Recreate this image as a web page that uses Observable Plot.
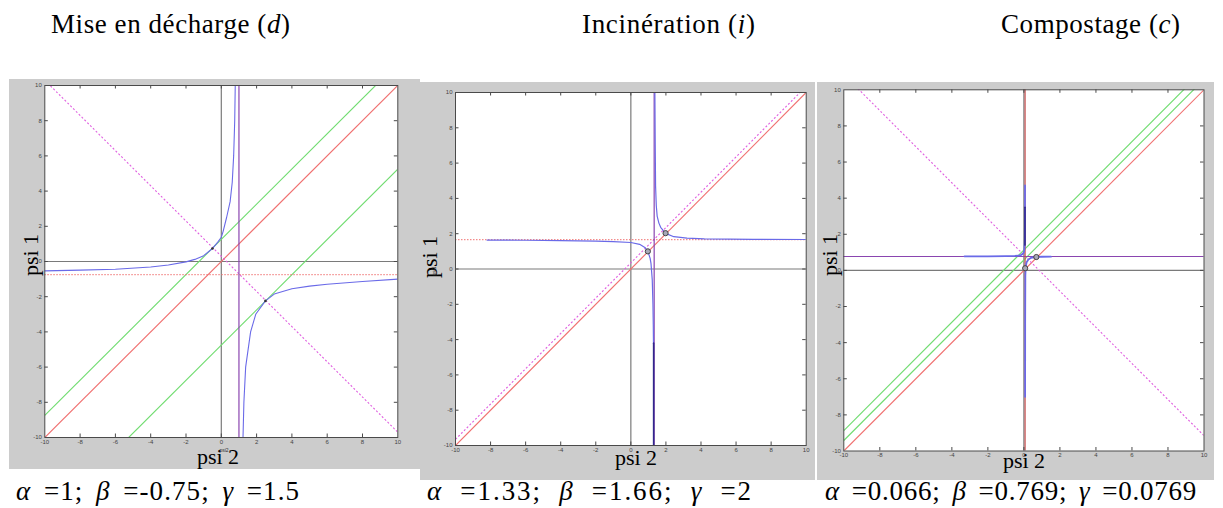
<!DOCTYPE html>
<html><head><meta charset="utf-8">
<script src="https://cdn.jsdelivr.net/npm/d3@7"></script>
<script src="https://cdn.jsdelivr.net/npm/@observablehq/plot@0.6"></script>
<style>
body{margin:0;background:#fff;}
#root{position:relative;width:1223px;height:508px;overflow:hidden;background:#fff;}
.panel{position:absolute;}
#overlay{position:absolute;left:0;top:0;pointer-events:none;}
</style></head><body><div id="root"></div>
<script>
// ---------------- data ----------------
const titles = ["Mise en décharge", "Incinération", "Compostage"];
const titleSymbols = ["d", "i", "c"];
const alphaLabels = ["1", "1.33", "0.066"];
const betaLabels = ["-0.75", "1.66", "0.769"];
const gammaLabels = ["1.5", "2", "0.0769"];
const alphas = [1, 1.33, 0.066];
const betas = [-0.75, 1.66, 0.769];
const tickValues = [-10, -8, -6, -4, -2, 0, 2, 4, 6, 8, 10];
const xLabel = "psi 2";
const yLabel = "psi 1";
// intercepts c of lines y = x + c
const redDiag = [[0], [0], [0]];
const greenDiag = [[1.26, -4.75], [], [1.13, 0.58]];
const pinkDiag = [[], [0.35], []];
// intercepts c of dotted lines y = -x + c
const pinkAnti = [[0.3], [], [0.85]];
// blue curve branches [psi2, psi1]
const blueLeft1 = [[-10,-0.53],[-8,-0.49],[-6,-0.44],[-4,-0.31],[-3,-0.2],[-2,-0.02],[-1.5,0.12],[-1,0.33],[-0.5,0.74],[-0.2,1.1],[0,1.38],[0.1,1.7],[0.3,2.5],[0.5,3.4],[0.62,4.5],[0.7,6],[0.76,8],[0.79,10]];
const blueRight1 = [[1.23,-10],[1.28,-8],[1.38,-6],[1.66,-4],[1.95,-3],[2.5,-2.24],[3,-1.85],[4,-1.55],[5,-1.4],[6,-1.29],[8,-1.14],[10,-1.0]];
const blueLeft2 = [[-8.2,1.64],[-6,1.63],[-4,1.61],[-2,1.58],[-1,1.55],[0,1.5],[0.5,1.4],[0.8,1.22],[0.97,1.0],[1.1,0.6],[1.15,0.3],[1.22,-0.6],[1.26,-2],[1.28,-3.2],[1.29,-4.2]];
const blueRight2 = [[1.37,10],[1.39,7],[1.41,4.7],[1.45,3.6],[1.5,3.0],[1.6,2.6],[1.7,2.36],[1.98,2.02],[2.45,1.83],[3.2,1.75],[4.2,1.71],[7,1.68],[10,1.67]];
const blueDark2 = [[1.3,-4.2],[1.3,-10]];
const blueLeft3 = [[-3.3,0.78],[-2,0.78],[-1,0.79],[-0.5,0.8],[-0.2,0.83],[-0.05,0.92],[0,1.02],[0.03,1.2],[0.05,1.7],[0.06,3.3],[0.062,4.7]];
const blueRight3 = [[0.068,-7],[0.07,-3],[0.08,-0.3],[0.1,0.2],[0.15,0.45],[0.25,0.6],[0.4,0.7],[0.7,0.745],[1,0.755],[1.5,0.76]];
const blueDark3 = [[0.06,1.4],[0.06,3.5]];
const dots1 = [[-0.5,0.74],[2.5,-2.24]];
const circles2 = [[0.97,1.0],[1.98,2.03]];
const circles3 = [[0.07,0.12],[0.69,0.74]];

const blueLeft = [blueLeft1, blueLeft2, blueLeft3];
const blueRight = [blueRight1, blueRight2, blueRight3];
const blueDark = [[], blueDark2, blueDark3];
const dots = [dots1, [], []];
const circles = [[], circles2, circles3];

// ---------------- styling / layout ----------------
const C = {
  bg: "#cccccc", axis: "#7a7a7a", frame: "#4a4a4a", red: "#f07070", green: "#70dc70",
  pink: "#e060e0", blue: "#6a6ae8", purple: "#8a45b0", redDark: "#c85050", navy: "#30288c"
};
const alphaStyle = [
  {stroke: C.purple}, {stroke: C.purple}, {stroke: C.redDark}
];
const betaStyle = [
  {stroke: C.red, strokeDasharray: "1.5,1.5"}, {stroke: C.red, strokeDasharray: "1.5,1.5"}, {stroke: C.purple}
];
const boxes = [
  {left: 9, top: 79, w: 411, h: 390, ml: 35.3, mr: 22.7, mt: 6, mb: 32},
  {left: 420, top: 82, w: 395, h: 398, ml: 35, mr: 9.3, mt: 10, mb: 35},
  {left: 817, top: 82, w: 397, h: 398, ml: 26.3, mr: 10.5, mt: 7.3, mb: 29.5}
];
const blueWidth = [1.1, 1.2, 1.8];

const root = document.getElementById("root");
const innerTicks = tickValues.slice(1, -1);
const X = d => d[0], Y = d => d[1];

function diag(data, style) {
  return Plot.link(data, {x1: () => -10, y1: c => -10 + c, x2: () => 10, y2: c => 10 + c, clip: true, strokeWidth: 1.15, ...style});
}
function anti(data, style) {
  return Plot.link(data, {x1: () => -10, y1: c => 10 + c, x2: () => 10, y2: c => -10 + c, clip: true, strokeWidth: 1.1, ...style});
}

for (let i = 0; i < 3; i++) {
  const b = boxes[i];
  const pw = b.w - b.ml - b.mr, ph = b.h - b.mt - b.mb;
  const chart = Plot.plot({
    width: b.w, height: b.h,
    marginLeft: b.ml, marginRight: b.mr, marginTop: b.mt, marginBottom: b.mb,
    x: {domain: [-10, 10]},
    y: {domain: [-10, 10]},
    style: {background: C.bg, fontFamily: "Liberation Sans, sans-serif", fontSize: "6px", overflow: "visible"},
    marks: [
      Plot.frame({fill: "white", stroke: null}),
      Plot.ruleX([0], {x: d => d, stroke: C.axis, strokeWidth: 1.2}),
      Plot.ruleY([0], {y: d => d, stroke: C.axis, strokeWidth: 1.2}),
      diag(greenDiag[i], {stroke: C.green}),
      diag(redDiag[i], {stroke: C.red}),
      diag(pinkDiag[i], {stroke: C.pink, strokeDasharray: "2,2"}),
      anti(pinkAnti[i], {stroke: C.pink, strokeDasharray: "2,2"}),
      Plot.ruleY([betas[i]], {y: d => d, ...betaStyle[i]}),
      Plot.ruleX([alphas[i]], {x: d => d, strokeWidth: 1.2, ...alphaStyle[i]}),
      Plot.line(blueLeft[i], {x: X, y: Y, stroke: C.blue, strokeWidth: blueWidth[i], clip: true}),
      Plot.line(blueRight[i], {x: X, y: Y, stroke: C.blue, strokeWidth: blueWidth[i], clip: true}),
      Plot.line(blueDark[i], {x: X, y: Y, stroke: C.navy, strokeWidth: 1.6, clip: true}),
      Plot.dot(dots[i], {x: X, y: Y, r: 1.3, fill: "#333", stroke: null}),
      Plot.dot(circles[i], {x: X, y: Y, r: 2.6, fill: "#a8a8b8", stroke: "#444", strokeWidth: 1}),
      // inward MATLAB-style ticks on all four sides
      Plot.tickX(innerTicks, {x: d => d, stroke: C.frame, insetTop: ph - 3.5}),
      Plot.tickX(innerTicks, {x: d => d, stroke: C.frame, insetBottom: ph - 3.5}),
      Plot.tickY(innerTicks, {y: d => d, stroke: C.frame, insetRight: pw - 3.5}),
      Plot.tickY(innerTicks, {y: d => d, stroke: C.frame, insetLeft: pw - 3.5}),
      Plot.frame({stroke: C.frame, strokeWidth: 1}),
      Plot.axisX({ticks: tickValues, tickSize: 0, tickPadding: 2, tickFormat: d => String(d), label: null, fill: "#444"}),
      Plot.axisY({ticks: tickValues, tickSize: 0, tickPadding: 3, tickFormat: d => String(d), label: null, fill: "#444"})
    ]
  });
  const wrap = document.createElement("div");
  wrap.className = "panel";
  wrap.style.left = b.left + "px";
  wrap.style.top = b.top + "px";
  wrap.appendChild(chart);
  root.appendChild(wrap);
}

// ---------------- text overlay ----------------
const svg = d3.create("svg").attr("id", "overlay").attr("width", 1223).attr("height", 508)
  .style("font-family", "'Liberation Serif', serif").attr("fill", "#000");
root.appendChild(svg.node());
const titleX = [51, 582, 1001];
const titleW = [239, 173, 179];
const captionX = [16, 427, 825];
const captionW = [284, 326, 372];
const xLabelPos = [[218, 464], [636, 465], [1024, 468]];
const yLabelPos = [[38, 255], [437, 257], [837, 255]];

for (let i = 0; i < 3; i++) {
  const t = svg.append("text").attr("x", titleX[i]).attr("y", 33).attr("font-size", 27)
    .attr("textLength", titleW[i]).attr("lengthAdjust", "spacing");
  t.append("tspan").text(titles[i] + " (");
  t.append("tspan").attr("font-style", "italic").text(titleSymbols[i]);
  t.append("tspan").text(")");

  const c = svg.append("text").attr("x", captionX[i]).attr("y", 500).attr("font-size", 27);
  c.append("tspan").attr("font-style", "italic").text("α");
  c.append("tspan").text(" =" + alphaLabels[i] + "; ");
  c.append("tspan").attr("font-style", "italic").text("β");
  c.append("tspan").text(" =" + betaLabels[i] + "; ");
  c.append("tspan").attr("font-style", "italic").text("γ");
  c.append("tspan").text(" =" + gammaLabels[i]);
  // spread the caption over the same width as in the figure: half in the gaps, half between letters
  const natural = c.node().getComputedTextLength();
  const nChars = c.text().length;
  const extra = Math.max(0, captionW[i] - natural);
  const ls = extra * 0.5 / nChars;
  const ws = extra * 0.5 / 5;
  c.attr("letter-spacing", ls.toFixed(2)).attr("word-spacing", ws.toFixed(2));

  svg.append("text").attr("x", xLabelPos[i][0]).attr("y", xLabelPos[i][1])
    .attr("text-anchor", "middle").attr("font-size", 22).text(xLabel);
  svg.append("text").attr("transform", `translate(${yLabelPos[i][0]},${yLabelPos[i][1]}) rotate(-90)`)
    .attr("text-anchor", "middle").attr("font-size", 22).text(yLabel);
}
// small duplicates of the labels, as in the original figure
svg.append("text").attr("x", 224).attr("y", 452).attr("text-anchor", "middle")
  .attr("font-size", 5).attr("font-family", "Liberation Sans, sans-serif").attr("fill", "#333").text("psi2");
svg.append("text").attr("transform", "translate(436,271) rotate(-90)").attr("text-anchor", "middle")
  .attr("font-size", 5).attr("font-family", "Liberation Sans, sans-serif").attr("fill", "#333").text("psi1");
</script></body></html>
